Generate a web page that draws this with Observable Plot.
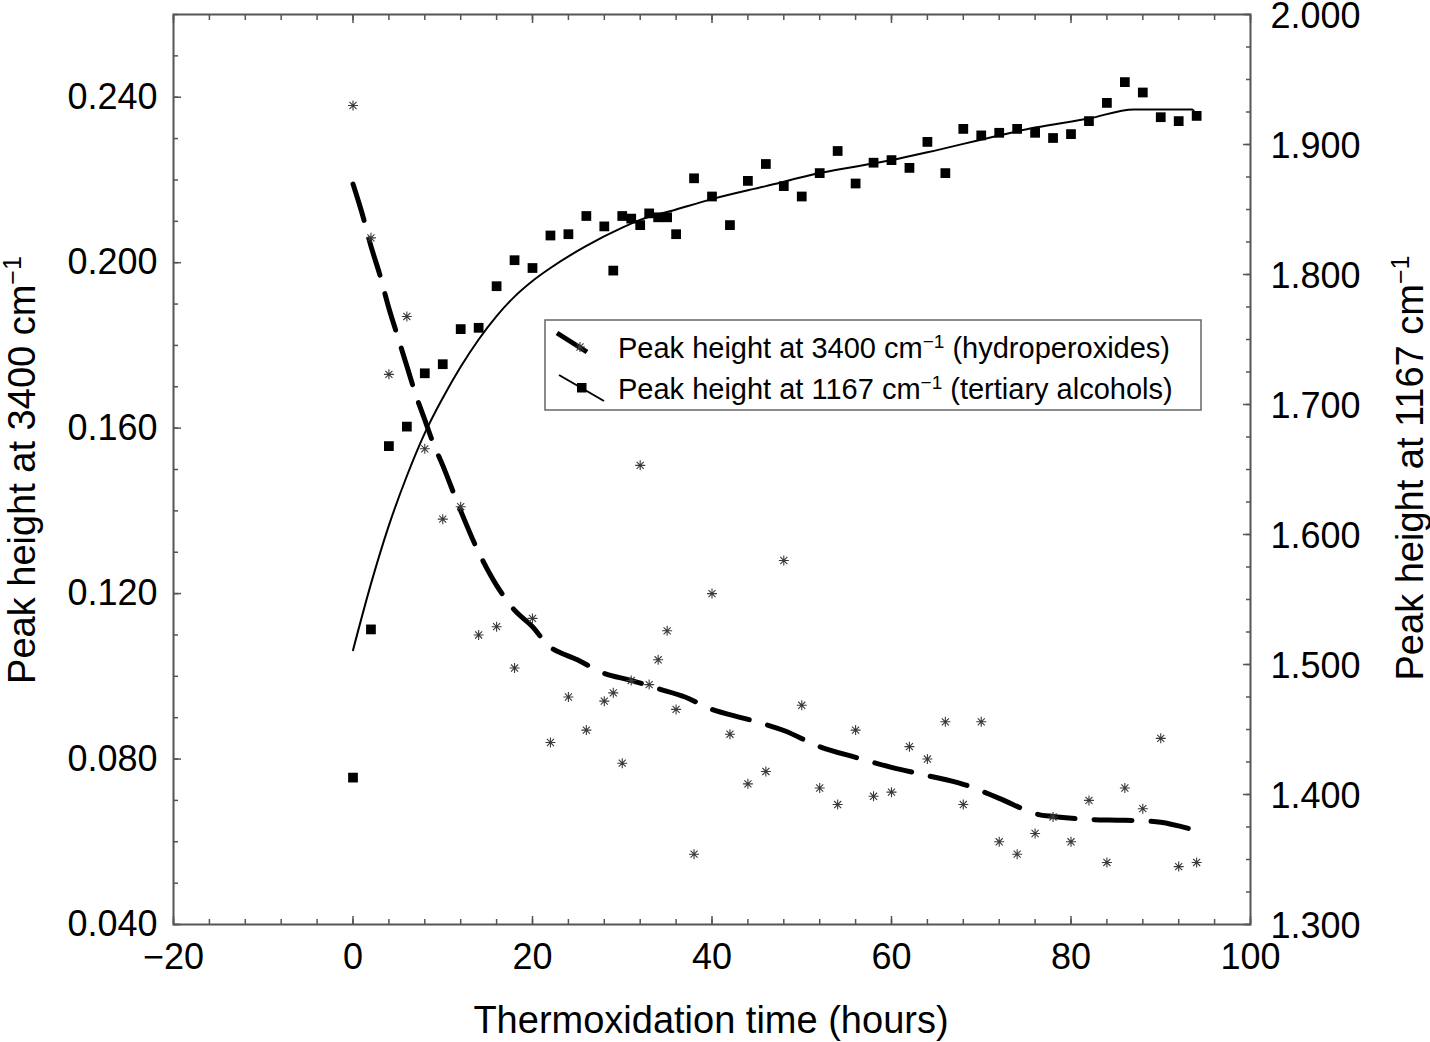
<!DOCTYPE html>
<html><head><meta charset="utf-8">
<script src="https://cdn.jsdelivr.net/npm/d3@7"></script>
<script src="https://cdn.jsdelivr.net/npm/@observablehq/plot@0.6"></script>
<style>
body{margin:0;background:#fff;}
#wrap{position:relative;width:1430px;height:1042px;font-family:"Liberation Sans",Arial,Helvetica,sans-serif;}
#wrap > svg{position:absolute;left:0;top:0;}
</style></head><body><div id="wrap"></div>
<script>
// ---- data ----
const hours = [0,2,4,6,8,10,12,14,16,18,20,22,24,26,28,29,30,31,32,33,34,35,36,38,40,42,44,46,48,50,52,54,56,58,60,62,64,66,68,70,72,74,76,78,80,82,84,86,88,90,92,94];
const peak3400 = [0.238,0.206,0.173,0.187,0.155,0.138,0.141,0.110,0.112,0.102,0.114,0.084,0.095,0.087,0.094,0.096,0.079,0.099,0.151,0.098,0.104,0.111,0.092,0.057,0.120,0.086,0.074,0.077,0.128,0.093,0.073,0.069,0.087,0.071,0.072,0.083,0.080,0.089,0.069,0.089,0.060,0.057,0.062,0.066,0.060,0.070,0.055,0.073,0.068,0.085,0.054,0.055];
const peak1167 = [1.413,1.527,1.668,1.683,1.724,1.731,1.758,1.759,1.791,1.811,1.805,1.830,1.831,1.845,1.837,1.803,1.845,1.843,1.838,1.847,1.844,1.844,1.831,1.874,1.860,1.838,1.872,1.885,1.868,1.860,1.878,1.895,1.870,1.886,1.888,1.882,1.902,1.878,1.912,1.907,1.909,1.912,1.909,1.905,1.908,1.918,1.932,1.948,1.940,1.921,1.918,1.922];
const fit3400T = [0,1,2,3,4,5,6,7,8,9,10,12,14,16,18,20,22,25,28,31,34,37,40,44,48,52,56,60,64,68,72,76,78,82,86,90,94];
const fit3400V = [0.219,0.212,0.204,0.197,0.189,0.182,0.175,0.168,0.162,0.156,0.151,0.140,0.130,0.122,0.116,0.112,0.107,0.104,0.1007,0.099,0.097,0.095,0.092,0.0896,0.0869,0.083,0.0804,0.078,0.076,0.0739,0.0705,0.0668,0.0661,0.0654,0.0652,0.0647,0.0627];
const fit1167T = [0,2,4,6,8,10,12,14,16,18,20,22,26,30,32,36,40,46,52,60,64,72,76,82,87,93.5,94];
const fit1167V = [1.511,1.562,1.607,1.645,1.678,1.705,1.729,1.750,1.768,1.783,1.795,1.805,1.822,1.836,1.842,1.850,1.858,1.868,1.878,1.888,1.894,1.907,1.913,1.920,1.927,1.927,1.921];
const xMajor = [-20,0,20,40,60,80,100];
const xMinor = d3.range(-20, 100.001, 4);
const yLeftMajor = [0.04,0.08,0.12,0.16,0.20,0.24];
const yLeftMinor = d3.range(0.04, 0.2601, 0.01);
const yRightMajor = [1.3,1.4,1.5,1.6,1.7,1.8,1.9,2.0];
const yRightMinor = d3.range(1.3, 2.0001, 0.025);
const xLabel = "Thermoxidation time (hours)";
const yLeftLabel = ["Peak height at 3400 cm", "−1"];
const yRightLabel = ["Peak height at 1167 cm", "−1"];
const legendLabels = [["Peak height at 3400 cm", "−1", " (hydroperoxides)"], ["Peak height at 1167 cm", "−1", " (tertiary alcohols)"]];

const hydro = hours.map((t, i) => ({t, v: peak3400[i]}));
const alco = hours.map((t, i) => ({t, v: peak1167[i]}));
const fitH = fit3400T.map((t, i) => ({t, v: fit3400V[i]}));
const fitA = fit1167T.map((t, i) => ({t, v: fit1167V[i]}));

// eight-armed asterisk symbol
const star8 = {
  draw(ctx, size) {
    const r = Math.sqrt(size / Math.PI);
    for (let k = 0; k < 4; k++) {
      const a = k * Math.PI / 4, c = Math.cos(a) * r, s = Math.sin(a) * r;
      ctx.moveTo(c, s); ctx.lineTo(-c, -s);
    }
  }
};

const W = 1430, H = 1042;
const M = {marginLeft: 173, marginRight: 180, marginTop: 14, marginBottom: 118};
const FONT = "'Liberation Sans', Arial, Helvetica, sans-serif";
const AX = "#555";
const style = {background: "transparent", fontFamily: FONT, fontSize: "36px", color: "#000", overflow: "visible"};
const fmtX = d => d < 0 ? "−" + (-d) : String(d);

const chartA = Plot.plot({
  width: W, height: H, ...M, style,
  x: {domain: [-20, 100]},
  y: {domain: [0.04, 0.26]},
  marks: [
    Plot.line(fitH, {x: "t", y: "v", curve: "catmull-rom", stroke: "#000", strokeWidth: 5, strokeDasharray: "38,19"}),
    Plot.dot(hydro, {x: "t", y: "v", symbol: star8, r: 5, stroke: "#3a3a3a", strokeWidth: 1.1}),
    Plot.axisX(xMinor, {anchor: "bottom", tickSize: -5, fill: "none", stroke: AX, strokeWidth: 1.5, label: null}),
    Plot.axisX(xMajor, {anchor: "bottom", tickSize: -8, fill: "none", stroke: AX, strokeWidth: 1.5, label: null}),
    Plot.axisX(xMinor, {anchor: "top", tickSize: -5, fill: "none", stroke: AX, strokeWidth: 1.5, label: null}),
    Plot.axisX(xMajor, {anchor: "top", tickSize: -8, fill: "none", stroke: AX, strokeWidth: 1.5, label: null}),
    Plot.axisX(xMajor, {anchor: "bottom", tickSize: 0, tickPadding: 19, tickFormat: fmtX, fontSize: 36, label: null}),
    Plot.axisY(yLeftMinor, {anchor: "left", tickSize: -5, fill: "none", stroke: AX, strokeWidth: 1.5, label: null}),
    Plot.axisY(yLeftMajor, {anchor: "left", tickSize: -8, fill: "none", stroke: AX, strokeWidth: 1.5, label: null}),
    Plot.axisY(yLeftMajor, {anchor: "left", tickSize: 0, tickPadding: 16, tickFormat: d3.format(".3f"), fontSize: 36, label: null}),
    Plot.frame({stroke: AX, strokeWidth: 2})
  ]
});

const chartB = Plot.plot({
  width: W, height: H, ...M, style,
  x: {domain: [-20, 100], axis: null},
  y: {domain: [1.3, 2.0]},
  marks: [
    Plot.line(fitA, {x: "t", y: "v", curve: "monotone-x", stroke: "#000", strokeWidth: 2}),
    Plot.dot(alco, {x: "t", y: "v", symbol: "square", r: 5.5, fill: "#000"}),
    Plot.axisY(yRightMinor, {anchor: "right", tickSize: -5, fill: "none", stroke: AX, strokeWidth: 1.5, label: null}),
    Plot.axisY(yRightMajor, {anchor: "right", tickSize: -8, fill: "none", stroke: AX, strokeWidth: 1.5, label: null}),
    Plot.axisY(yRightMajor, {anchor: "right", tickSize: 0, tickPadding: 20, dy: 2, tickFormat: d3.format(".3f"), fontSize: 36, label: null})
  ]
});

const wrap = document.getElementById("wrap");
wrap.appendChild(chartA);
wrap.appendChild(chartB);

// ---- titles and legend (text layer) ----
const layer = d3.create("svg").attr("width", W).attr("height", H)
  .style("font-family", FONT).style("pointer-events", "none").style("overflow", "visible");

function supText(g, parts, size, supSize, supDy) {
  const t = g.append("text").attr("font-size", size).attr("fill", "#000");
  t.append("tspan").text(parts[0]);
  t.append("tspan").attr("font-size", supSize).attr("dy", -supDy).text(parts[1]);
  if (parts[2]) t.append("tspan").attr("dy", supDy).text(parts[2]);
  return t;
}
// x title
layer.append("text").attr("x", 711).attr("y", 1033).attr("text-anchor", "middle")
  .attr("font-size", 38).text(xLabel);
// left y title
supText(layer.append("g").attr("transform", "translate(35,470) rotate(-90)"), yLeftLabel, 38, 25, 14)
  .attr("text-anchor", "middle");
// right y title
supText(layer.append("g").attr("transform", "translate(1423,468) rotate(-90)"), yRightLabel, 38, 25, 14)
  .attr("text-anchor", "middle");

// legend
const lg = layer.append("g").attr("transform", "translate(545,320)");
lg.append("rect").attr("width", 656).attr("height", 90).attr("fill", "#fff").attr("stroke", "#666").attr("stroke-width", 1.5);
lg.append("line").attr("x1", 12).attr("y1", 13).attr("x2", 42).attr("y2", 32).attr("stroke", "#000").attr("stroke-width", 5);
lg.append("path").attr("d", d3.symbol(star8, Math.PI * 25)()).attr("transform", "translate(35,27)")
  .attr("fill", "none").attr("stroke", "#3a3a3a").attr("stroke-width", 1.1);
lg.append("line").attr("x1", 14).attr("y1", 55).attr("x2", 59).attr("y2", 81).attr("stroke", "#000").attr("stroke-width", 2);
lg.append("rect").attr("x", 32).attr("y", 63).attr("width", 9.5).attr("height", 9.5).attr("fill", "#000");
supText(lg.append("g").attr("transform", "translate(73,38)"), legendLabels[0], 29, 19, 10);
supText(lg.append("g").attr("transform", "translate(73,79)"), legendLabels[1], 29, 19, 10);

wrap.appendChild(layer.node());
</script></body></html>
